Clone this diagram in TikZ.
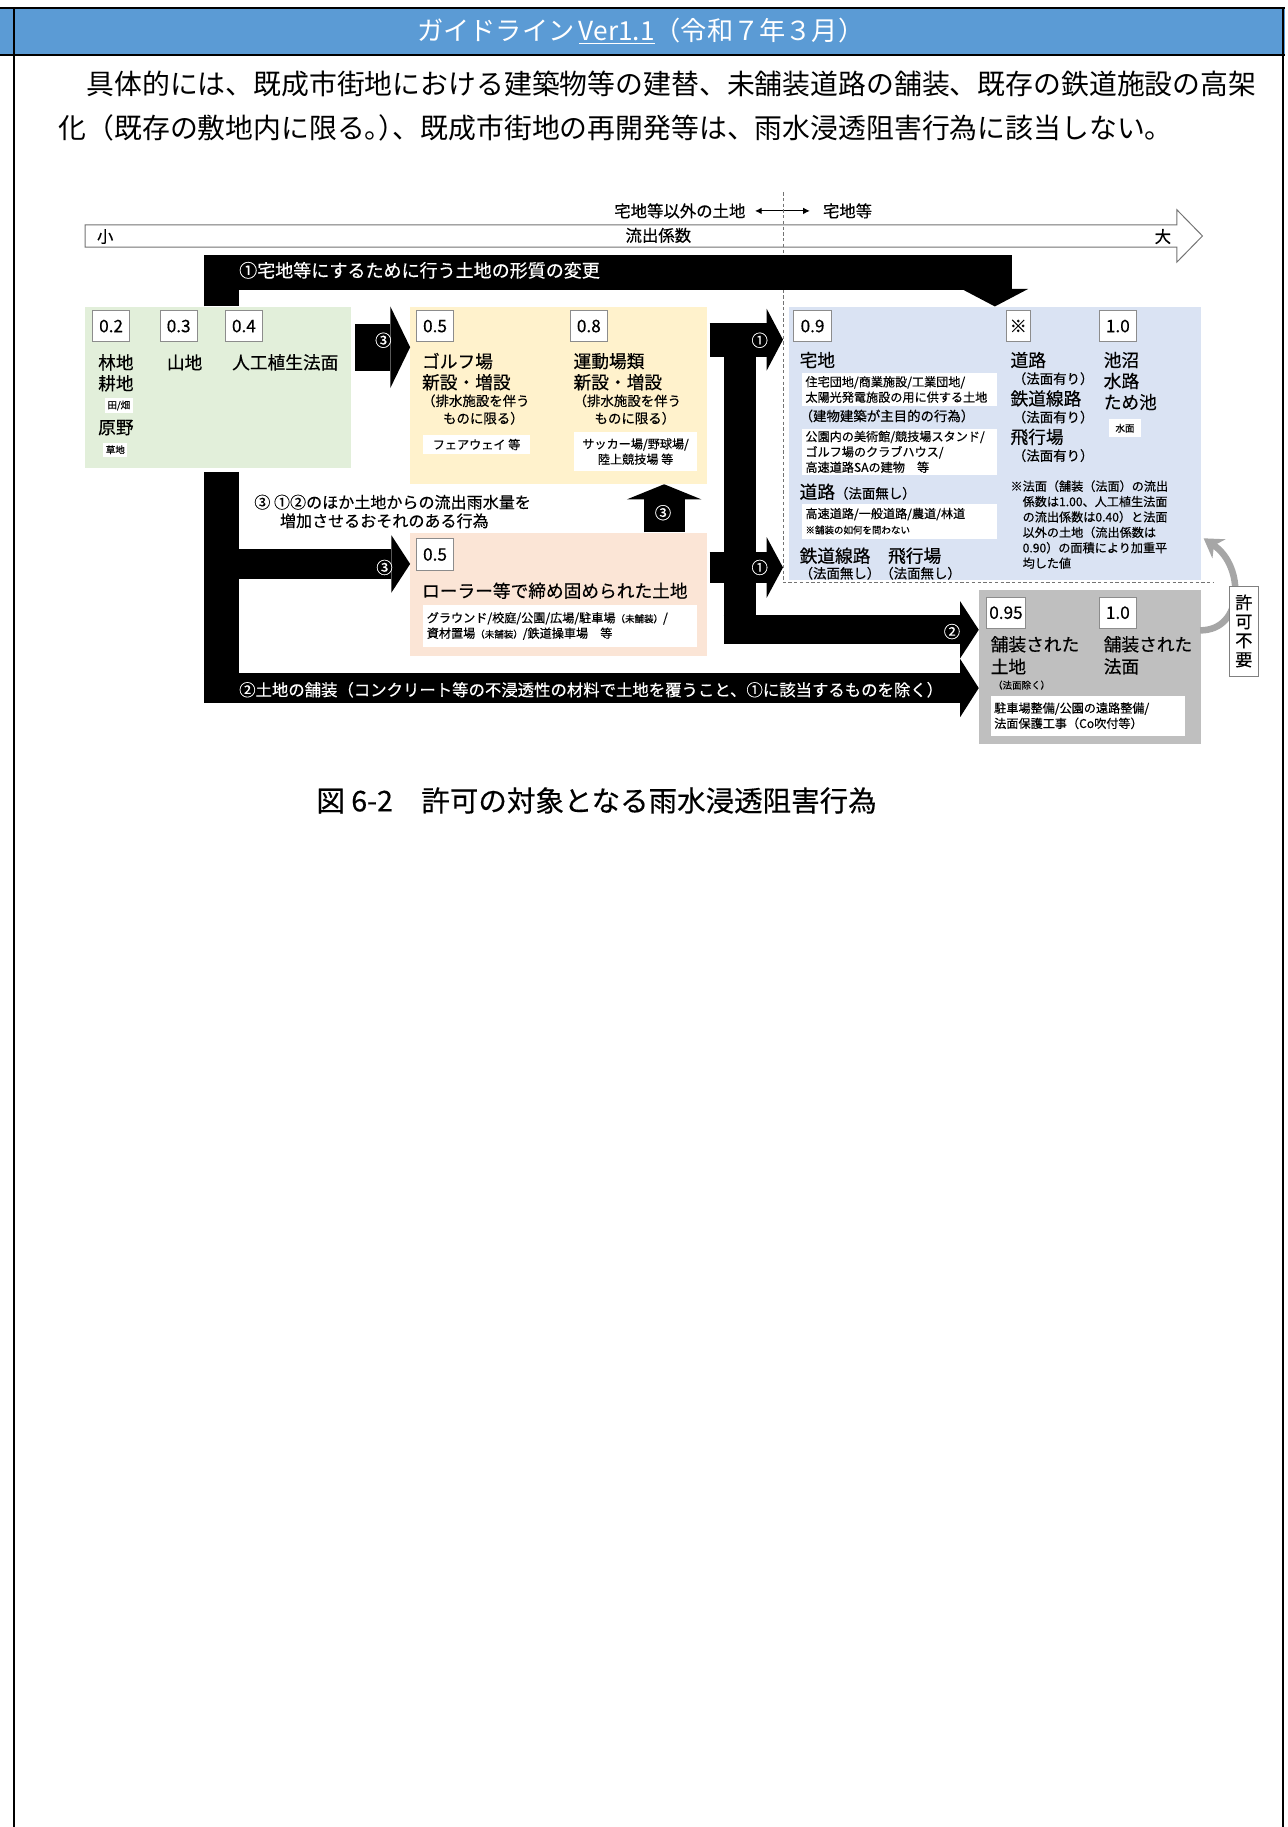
\documentclass[tikz,border=0pt]{standalone}
\usepackage{fontspec}
\setmainfont{Noto Sans CJK JP}
\newfontfamily\diagfont{Noto Sans CJK JP}[FakeBold=0.4]
\usetikzlibrary{positioning, arrows.meta}

\definecolor{hdrblue}{HTML}{5B9BD5}
\definecolor{greenbg}{HTML}{E2EFDA}
\definecolor{orangebg}{HTML}{FFF2CC}
\definecolor{peachbg}{HTML}{FBE5D6}
\definecolor{bluebg}{HTML}{DAE3F3}
\definecolor{graybg}{HTML}{BFBFBF}

\newcommand{\szhdr}{\fontsize{16}{18}\selectfont}
\newcommand{\szbody}{\fontsize{17}{20}\selectfont}
\newcommand{\szcap}{\diagfont\fontsize{17.4}{19}\selectfont}
\newcommand{\szband}{\diagfont\fontsize{11}{13}\selectfont}
\newcommand{\szact}{\diagfont\fontsize{9.8}{12}\selectfont}
\newcommand{\szaxis}{\diagfont\fontsize{10}{12}\selectfont}
\newcommand{\szbig}{\diagfont\fontsize{10.8}{12.5}\selectfont}
\newcommand{\szval}{\diagfont\fontsize{10.5}{12}\selectfont}
\newcommand{\szmid}{\diagfont\fontsize{8.2}{10}\selectfont}
\newcommand{\szsml}{\diagfont\fontsize{7.4}{9.4}\selectfont}
\newcommand{\sztin}{\diagfont\fontsize{5.8}{7}\selectfont}
\newcommand{\sznum}{\diagfont\fontsize{10}{12}\selectfont}

\begin{document}
\begin{tikzpicture}[x=0.025cm, y=-0.025cm,
  region/.style={fill=#1, anchor=north west, inner sep=0pt},
  valbox/.style={draw=black!45, line width=0.5pt, fill=white, anchor=north west,
    inner sep=0pt, minimum width=0.8cm, minimum height=0.675cm, font=\szval},
  txt/.style={anchor=west, inner sep=0pt},
  wbox/.style 2 args={fill=white, anchor=north west, inner xsep=0.075cm, inner ysep=0pt,
    align=left, font=\szsml, text width=#1, minimum height=#2},
  wtag/.style={fill=white, inner sep=1.5pt, align=center, font=\szsml},
  onbar/.style={text=white, inner sep=0pt, font=\sznum},
  barrow/.style n args={3}{line width=#1, -{Triangle[length=#2, width=#3, line width=0pt]}},
  dashline/.style={black!55, line width=0.5pt, dash pattern=on 2pt off 1.5pt},
  frame/.style={line width=1pt}]

\useasboundingbox (0,0) rectangle (1105,1568);

% page frame and header
\fill[hdrblue] (0,7) rectangle (1103,47);
\draw[frame] (0,7) -- (1103,7);
\draw[frame] (0,47) -- (1103,47);
\draw[frame] (12,7) -- (12,1568);
\draw[frame] (1101,7) -- (1101,1568);
\node[text=white, font=\szhdr] (title) at (550,27) {ガイドライン\,\underline{Ver1.1}（令和７年３月）};
\node[txt, font=\szbody] (para1) at (50,72) {　具体的には、既成市街地における建築物等の建替、未舗装道路の舗装、既存の鉄道施設の高架};
\node[txt, font=\szbody] (para2) at (50,110) {化（既存の敷地内に限る。\kern-.5em）\kern-.5em、既成市街地の再開発等は、雨水浸透阻害行為に該当しない。};

% runoff scale
\draw[black!55, fill=white, line width=0.6pt] (73,193) -- (1010,193) -- (1010,180) -- (1032,202.5)
  -- (1010,225) -- (1010,212) -- (73,212) -- cycle;
\node[txt, font=\szaxis] (small) at (83,203) {小};
\node[font=\szaxis] (coef) at (565,202) {流出係数};
\node[font=\szaxis] (large) at (998,203) {大};
\node[anchor=east, inner sep=0pt, font=\szaxis] (nonres) at (640,181) {宅地等以外の土地};
\node[txt, font=\szaxis] (res) at (706,181) {宅地等};
\draw[{Latex[length=4pt,width=4pt]}-{Latex[length=4pt,width=4pt]}, line width=0.6pt,
  shorten <=0.2cm, shorten >=0.275cm] (nonres.east) -- (res.west);

% land groups
\node[region=greenbg, minimum width=5.7cm, minimum height=3.45cm] (green) at (73,263) {};
\node[region=orangebg, minimum width=6.35cm, minimum height=3.8cm] (orange) at (352,263) {};
\node[region=peachbg, minimum width=6.35cm, minimum height=2.65cm] (peach) at (352,457) {};
\node[region=bluebg, minimum width=8.825cm, minimum height=5.85cm] (blue) at (677,263) {};
\node[region=graybg, minimum width=4.75cm, minimum height=3.3cm] (gray) at (840,506) {};

\coordinate (dtop) at (672,165);
\coordinate (dcorner) at (672,500);
\coordinate (dend) at (1042,500);
\draw[dashline] (dtop) -- (dcorner) -- (dend);

% green
\node[valbox] (v02) at (79,266) {0.2};
\node[valbox] (v03) at (137,266) {0.3};
\node[valbox] (v04) at (193,266) {0.4};
\node[txt, font=\szbig] (forest) at (84,311) {林地};
\node[txt, font=\szbig] (farm) at (84,329) {耕地};
\node[wtag, font=\sztin] (paddy) at (102,348) {田/畑};
\node[txt, font=\szbig] (field) at (84,367) {原野};
\node[wtag, font=\sztin] (grass) at (99,386) {草地};
\node[txt, font=\szbig] (mount) at (143,311) {山地};
\node[txt, font=\szbig] (slope) at (199,311) {人工植生法面};

% orange
\node[valbox] (v05a) at (357,266) {0.5};
\node[valbox] (v08) at (489,266) {0.8};
\node[txt, font=\szbig] (golf) at (362,310) {ゴルフ場};
\node[txt, font=\szbig] (golfnew) at (362,328) {新設・増設};
\node[txt, font=\szmid] (golfcond) at (362,344) {（排水施設を伴う};
\node[txt, font=\szmid] (golfcond2) at (380,359) {ものに限る）};
\node[wtag, inner sep=0pt, minimum width=2.3cm, minimum height=0.425cm] (fairway) at (409,381.5) {フェアウェイ 等};
\node[txt, font=\szbig] (sport) at (492,310) {運動場類};
\node[txt, font=\szbig] (sportnew) at (492,328) {新設・増設};
\node[txt, font=\szmid] (sportcond) at (492,344) {（排水施設を伴う};
\node[txt, font=\szmid] (sportcond2) at (510,359) {ものに限る）};
\node[wtag, inner sep=0pt, minimum width=2.625cm, minimum height=0.825cm] (fields) at (545.5,387.5) {サッカー場/野球場/\\陸上競技場 等};

% peach
\node[valbox] (v05b) at (357,462) {0.5};
\node[txt, font=\szbig] (roller) at (362,507) {ローラー等で締め固められた土地};
\node[wbox={5.725cm}{0.9cm}] (ground) at (363,519) {グラウンド/校庭/公園/広場/駐車場{\sztin（未舗装）}/\\資材置場{\sztin（未舗装）}/鉄道操車場　等};

% blue
\node[valbox] (v09) at (681,266) {0.9};
\node[valbox, minimum width=0.525cm] (vnote) at (863,266) {※};
\node[valbox] (v10a) at (943,266) {1.0};
\node[txt, font=\szbig] (resland) at (686,309) {宅地};
\node[wbox={4.025cm}{0.7cm}] (resuse) at (688,320) {住宅団地/商業施設/工業団地/\\太陽光発電施設の用に供する土地};
\node[txt, font=\szmid] (building) at (686,357) {（建物建築が主目的の行為）};
\node[wbox={4.025cm}{0.975cm}] (facility) at (688,368) {公園内の美術館/競技場スタンド/\\ゴルフ場のクラブハウス/\\高速道路SAの建物　等};
\node[txt] (road) at (686,422) {{\szbig 道路}{\szmid（法面無し）}};
\node[wbox={4.025cm}{0.75cm}] (roads) at (688,432) {高速道路/一般道路/農道/林道\\{\sztin ※舗装の如何を問わない}};
\node[txt, font=\szbig] (rail) at (686,477) {鉄道線路　飛行場};
\node[txt, font=\szmid] (railnote) at (686,492) {（法面無し）（法面無し）};
\node[txt, font=\szbig] (road2) at (867,309) {道路};
\node[txt, font=\szmid] (road2n) at (869,325) {（法面有り）};
\node[txt, font=\szbig] (rail2) at (867,342) {鉄道線路};
\node[txt, font=\szmid] (rail2n) at (869,358) {（法面有り）};
\node[txt, font=\szbig] (air2) at (867,375) {飛行場};
\node[txt, font=\szmid] (air2n) at (869,391) {（法面有り）};
\node[txt, font=\szbig] (pond) at (947,309) {池沼};
\node[txt, font=\szbig] (canal) at (947,327) {水路};
\node[txt, font=\szbig] (reserv) at (947,345) {ため池};
\node[wtag, font=\sztin, inner sep=0pt, minimum width=0.675cm, minimum height=0.375cm] (water) at (965.5,367.5) {水面};
\node[anchor=north west, inner sep=0pt, align=left, font=\szsml] (note) at (867,412) {※法面（舗装（法面）の流出\\\hspace*{1em}係数は1.00、人工植生法面\\\hspace*{1em}の流出係数は0.40）と法面\\\hspace*{1em}以外の土地（流出係数は\\\hspace*{1em}0.90）の面積により加重平\\\hspace*{1em}均した値};

% gray
\node[valbox, minimum width=0.85cm] (v095) at (846,512) {0.95};
\node[valbox] (v10b) at (943,512) {1.0};
\node[txt, font=\szbig] (paved) at (850,553) {舗装された};
\node[txt, font=\szbig] (pavedland) at (850,572) {土地};
\node[txt, font=\sztin] (pavedex) at (852,588) {（法面除く）};
\node[txt, font=\szbig] (paved2) at (947,553) {舗装された};
\node[txt, font=\szbig] (pavedslope) at (947,572) {法面};
\node[wbox={4.025cm}{0.85cm}] (works) at (850,597) {駐車場整備/公園の遠路整備/\\法面保護工事（Co吹付等）};

% (1) change of land form
\coordinate (b1) at (190,234);
\draw[barrow={0.75cm}{0.375cm}{1.425cm}] (b1 |- green.north) -- (b1) -| (blue.north);
\node[onbar, anchor=west, font=\szband] (act1) at (205,232) {①宅地等にするために行う土地の形質の変更};

% (3) green -> orange
\coordinate (b3a) at (305,298);
\draw[barrow={1cm}{0.425cm}{1.75cm}] (b3a) -- (b3a -| orange.west);
\node[onbar] (m3a) at (329,292) {③};

% trunk, (3) -> peach, (2) paving
\coordinate (b2a) at (190,405);
\coordinate (b2b) at (190,603);
\draw[line width=0.75cm] (b2a) -- (b2b);
\coordinate (b3b) at (205,484);
\draw[barrow={0.65cm}{0.4cm}{1.225cm}] (b3b) -- (b3b -| peach.west);
\node[onbar] (m3b) at (330,487) {③};
\coordinate (b2c) at (175,590.5);
\draw[barrow={0.625cm}{0.4cm}{1.25cm}] (b2c) -- (b2c -| gray.west);
\node[onbar, anchor=west] (act2) at (205,592) {②土地の舗装（コンクリート等の不浸透性の材料で土地を覆うこと、①に該当するものを除く）};
\node[txt, font=\szact] (act3) at (218,431) {③ ①②のほか土地からの流出雨水量を};
\node[txt, font=\szact] (act3b) at (240,447) {増加させるおそれのある行為};

% (3) peach -> orange
\coordinate (b3c) at (570,436);
\draw[barrow={0.875cm}{0.325cm}{1.6cm}] (b3c |- peach.north) -- (b3c |- orange.south);
\node[onbar] (m3c) at (569,440) {③};

% right connector
\coordinate (ia) at (635,277);
\coordinate (ib) at (635,553);
\draw[line width=0.7cm] (ia) -- (ib);
\coordinate (i1a) at (609,291.5);
\draw[barrow={0.725cm}{0.35cm}{1.325cm}] (i1a) -- (i1a -| dcorner);
\node[onbar] (m1a) at (652,292) {①};
\coordinate (i1b) at (609,487);
\draw[barrow={0.65cm}{0.35cm}{1.3cm}] (i1b) -- (i1b -| dcorner);
\node[onbar] (m1b) at (652,487) {①};
\coordinate (i2) at (621,540.5);
\draw[barrow={0.625cm}{0.4cm}{1.225cm}] (i2) -- (i2 -| gray.west);
\node[onbar] (m2) at (817,542) {②};

% no permission needed
\coordinate (cstart) at (1030,541);
\coordinate (ctip) at (1033,462);
\draw[black!35, line width=0.14cm, -{Stealth[length=0.4cm, width=0.5cm, line width=0pt]}]
  (cstart) .. controls (1068,541) and (1068,486) .. (ctip);
\node[draw=black!50, fill=white, align=center, inner sep=0pt, font=\diagfont\fontsize{10.5}{11.6}\selectfont,
  minimum width=0.625cm, minimum height=1.925cm] (kyoka) at (1067.5,541.5) {許\\可\\不\\要};

\node[font=\szcap] (caption) at (512,687) {図 6-2　許可の対象となる雨水浸透阻害行為};
\end{tikzpicture}
\end{document}
